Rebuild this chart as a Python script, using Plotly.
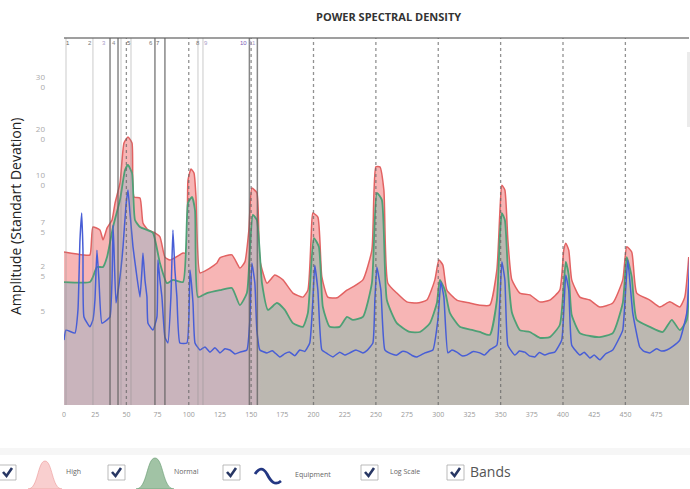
import plotly.graph_objects as go

# ---------------- data ----------------
high_freq = [0, 15.2, 20.8, 23.2, 28.8, 31.3, 34.5, 38.5, 40.9, 44.9, 48.1, 51.3, 54.5, 56.1, 60.9, 63.3,
             67.3, 72.9, 76.9, 80.9, 84.9, 95.4, 97.8, 99.4, 101.8, 104.2, 105.8, 109, 114.6, 122.6, 125, 134.6,
             141, 145, 148.2, 150.6, 154.6, 157, 162.7, 169, 175.5, 183.5, 191.5, 195.5, 198, 199.5, 203.5,
             206.7, 211.5, 218.8, 226.8, 231.6, 239.6, 246.8, 250, 253.2, 256.4, 259.6, 266.8, 274.8, 282.9,
             290.9, 297.3, 300.5, 303.7, 306.9, 314.9, 325.3, 333.3, 341.3, 347, 349.4, 351, 353.4, 355.8, 359,
             365.4, 373.4, 381.4, 389.4, 397.4, 400.6, 402.2, 404.6, 407, 413.5, 421.5, 429.5, 439.9, 447.9,
             451.1, 455.1, 459.1, 469.6, 477.6, 485.6, 493.6, 497.6, 500.8]
high_amp = [41.7, 40.9, 40.9, 48.5, 47.7, 45.0, 48.2, 50.4, 55.0, 60.5, 71.4, 73.0, 71.4, 56.7, 56.4, 49.6,
            47.7, 46.9, 45.8, 40.3, 39.5, 41.4, 41.4, 61.3, 64.3, 63.2, 56.7, 36.0, 36.8, 38.7, 40.1, 40.9,
            37.3, 39.0, 47.7, 59.1, 57.8, 39.5, 33.2, 35.4, 34.1, 30.5, 29.4, 31.3, 45.0, 52.3, 51.2,
            34.9, 29.4, 29.2, 31.3, 32.2, 34.1, 42.2, 64.9, 64.9, 58.6, 33.2, 30.5, 28.1, 27.8,
            28.6, 34.1, 39.5, 38.1, 31.3, 28.6, 27.8, 27.2, 27.2, 36.8, 52.6, 59.9, 58.6, 45.0, 34.1,
            30.5, 30.0, 28.1, 28.6, 31.3, 42.2, 44.1, 42.2, 34.1, 29.4, 28.6, 26.7, 27.8, 34.1,
            43.1, 41.7, 30.5, 28.6, 26.7, 28.1, 26.7, 29.4, 40.3]

normal_freq = [0, 20.8, 23.2, 26.4, 31.3, 34.5, 39.3, 44.9, 48.9, 51.3, 54.5, 56.9, 60.9, 66.5, 71.3, 76.9,
               82.5, 87.3, 95.4, 99.4, 102.6, 105, 107.4, 114.6, 125, 134.6, 141, 146.6, 149, 151.4, 154.6,
               158.7, 163.5, 170.7, 177, 183.5, 191.5, 195.5, 200.3, 204.3, 207.5, 213, 221, 226.8, 231.6,
               239.6, 246.8, 250.8, 254.8, 258.8, 266.8, 277.2, 285.3, 293.3, 298.9, 301.3, 305.3, 309.3,
               317.3, 327.7, 333.3, 341.3, 347, 349.4, 351, 353.4, 355.8, 359, 365.4, 373.4, 381.4, 389.4,
               397.4, 400.6, 402.2, 404.6, 407, 413.5, 421.5, 429.5, 439.9, 447.9, 451.1, 455.1, 459.1,
               469.6, 480, 487.2, 493.6, 499.2, 501]
normal_amp = [33.5, 33.5, 34.9, 37.6, 37.6, 40.3, 48.5, 55.9, 64.0, 65.4, 63.2, 50.4, 48.5, 47.7, 46.9, 38.7,
              33.2, 34.1, 33.5, 55.0, 56.7, 53.1, 29.4, 30.5, 31.3, 31.9, 27.2, 30.5, 42.2, 51.8, 50.4,
              33.2, 25.9, 27.8, 25.9, 22.3, 21.3, 25.1, 45.5, 43.1, 26.7, 21.3, 21.3, 24.0, 23.2,
              24.0, 33.2, 57.8, 55.9, 28.6, 22.3, 19.9, 19.9, 22.3, 27.8, 34.1, 31.3, 25.1,
              21.3, 20.4, 19.9, 19.1, 28.6, 46.3, 52.3, 50.4, 36.8, 25.3, 20.4, 19.9, 18.3, 18.5,
              21.8, 32.7, 39.0, 35.4, 24.5, 19.6, 18.8, 18.5, 19.6, 27.8, 40.3, 34.9, 23.2,
              21.3, 19.9, 23.2, 20.4, 23.2, 34.1]

equip_freq = [0, 1.6, 8.8, 11.2, 12.8, 14.2, 15.2, 16, 20.8, 23.2, 24.8, 26.4, 28, 30.4, 34.5, 36.9, 38.5,
              39.3, 40.1, 41.7, 44.9, 47.3, 49.7, 51.3, 52.9, 55.3, 57.7, 60.9, 62.5, 63.3, 64.9, 66.5,
              67.3, 71.3, 74.5, 75.3, 76.9, 78.5, 80.9, 83.3, 85.7, 87.3, 88.9, 90.5, 92.9, 98.6, 101,
              103.4, 105, 109, 113, 117, 121, 125, 129, 133, 137, 141, 146.6, 149, 150.6, 153, 154.6, 157,
              162.7, 167, 173, 177, 181, 185, 189, 193, 197, 199.5, 201, 203.5, 206.7, 211, 215.5, 221,
              225, 229, 234, 239.6, 243, 247.6, 249.2, 250.8, 254, 257.2, 262, 266.8, 271, 274.8, 279,
              282.9, 289.3, 295.7, 299.7, 302.1, 304.5, 307.7, 311, 314.9, 319, 322.9, 328, 333.3, 337,
              341.3, 347, 349.4, 351, 353.4, 355.8, 361.4, 365, 369.4, 373, 377.4, 381, 385.4, 389,
              393.4, 399, 402.2, 404.6, 407, 413.5, 417, 421.5, 425, 429.5, 434, 439.9, 444, 447.9, 451.9,
              455.9, 461.5, 465, 469.6, 475, 479, 483.2, 488, 493.6, 499.2, 501.6]
equip_amp = [17.7, 20.4, 19.6, 25.9, 45.0, 52.3, 42.2, 24.0, 21.3, 23.2, 28.6, 42.2, 34.1, 22.3, 23.2, 24.0, 34.1,
             49.0, 42.2, 27.8, 34.9, 43.1, 54.5, 58.6, 52.3, 43.1, 36.8, 29.4, 36.8, 41.4, 34.1, 29.4,
             22.3, 20.4, 24.0, 39.5, 34.1, 29.4, 18.5, 16.9, 29.4, 47.7, 36.8, 29.4, 16.9, 16.9, 36.8,
             27.8, 16.9, 15.0, 15.8, 14.4, 15.6, 14.2, 15.3, 15.0, 13.9, 14.4, 15.0, 23.2, 38.7, 33.2, 20.4, 15.0,
             14.2, 14.8, 13.1, 14.0, 14.4, 13.4, 15.0, 14.6, 16.9, 28.6, 38.1, 31.3, 15.0, 14.0, 13.1, 14.4,
             13.6, 14.2, 15.0, 14.2, 14.9, 16.9, 28.6, 37.6, 31.3, 15.0, 14.0, 13.6, 14.6, 14.4, 13.5,
             13.1, 14.2, 15.0, 23.2, 33.5, 29.4, 14.2, 15.0, 14.4, 13.4, 13.6, 14.6, 14.2, 13.6,
             15.0, 16.3, 28.6, 39.0, 34.1, 16.3, 13.6, 14.7, 14.4, 13.4, 13.1, 14.3, 13.6, 14.1,
             14.4, 17.7, 35.4, 31.3, 16.3, 13.6, 14.4, 12.8, 13.6, 12.3, 13.9, 15.0, 17.5, 20.4, 39.5,
             25.1, 15.8, 14.6, 14.2, 15.3, 14.7, 15.0, 16.0, 17.7, 25.1, 40.3]

x_tick_vals = list(range(0, 501, 25))
y_tick_vals = [25.6, 36.5, 48.5, 61.3, 73.8, 88.0]
y_tick_text = ["5", "2<br>5", "7<br>5", "10<br>0", "20<br>0", "30<br>0"]

harmonic_freq = [50, 100, 150, 200, 250, 300, 350, 400, 450]
band_dark_freq = [36.9, 43.3, 72.9, 80.9, 148.6, 155.0]
band_light_freq = [1.6, 23.2, 45.7, 53.7, 107.4, 111.4]
band_label_text = ["1", "2", "3", "4", "5", "6", "7", "8", "9", "10", "11"]
band_label_freq = [3.2, 20.8, 32.0, 40.0, 52.0, 69.7, 75.3, 107.4, 113.8, 144.2, 151.4]
band_label_color = ["#666", "#777", "#a89cc8", "#888", "#666", "#777", "#666", "#777", "#a89cc8", "#7a5cb8", "#a89cc8"]

legend_labels = ["High", "Normal", "Equipment", "Log Scale", "Bands"]

# ---------------- layout helpers ----------------
W, H = 690, 489
ML, MR, MT, MB = 64, 1, 38, 84
PW, PH = W - ML - MR, H - MT - MB


def px(x):
    return (x - ML) / PW


def py(y):
    return (H - MB - y) / PH


fig = go.Figure()

fig.add_trace(go.Scatter(
    x=high_freq, y=high_amp, mode="lines", name="High",
    line=dict(color="rgb(226,98,98)", width=1.5, shape="spline", smoothing=0.5),
    fill="tozeroy", fillcolor="rgba(240,120,120,0.55)"))

fig.add_trace(go.Scatter(
    x=normal_freq, y=normal_amp, mode="lines", name="Normal",
    line=dict(color="rgb(78,160,118)", width=1.8, shape="spline", smoothing=0.5),
    fill="tozeroy",
    fillgradient=dict(type="horizontal", start=0, stop=501,
                      colorscale=[[0, "rgb(201,180,188)"], [0.305, "rgb(201,180,188)"],
                                  [0.315, "rgb(188,184,177)"], [1, "rgb(188,184,177)"]])))

fig.add_trace(go.Scatter(
    x=equip_freq, y=equip_amp, mode="lines", name="Equipment",
    line=dict(color="rgb(72,94,214)", width=1.5, shape="spline", smoothing=0.4)))

shapes = []
for f in band_light_freq:
    shapes.append(dict(type="line", xref="x", yref="paper", x0=f, x1=f, y0=0, y1=1,
                       line=dict(color="rgba(140,140,140,0.45)", width=1), layer="above"))
for f in band_dark_freq:
    shapes.append(dict(type="line", xref="x", yref="paper", x0=f, x1=f, y0=0, y1=1,
                       line=dict(color="rgba(95,95,95,0.75)", width=1.5), layer="above"))
for f in harmonic_freq:
    shapes.append(dict(type="line", xref="x", yref="paper", x0=f, x1=f, y0=0, y1=1,
                       line=dict(color="rgba(100,100,100,0.7)", width=1.3, dash="dot"), layer="above"))
shapes.append(dict(type="line", xref="paper", yref="paper", x0=0, x1=1, y0=1, y1=1,
                   line=dict(color="rgba(95,95,95,0.8)", width=1.5), layer="above"))
shapes.append(dict(type="rect", xref="paper", yref="paper", x0=px(0), x1=px(690), y0=py(455), y1=py(448),
                   fillcolor="rgba(0,0,0,0.035)", line=dict(width=0), layer="above"))
shapes.append(dict(type="rect", xref="paper", yref="paper", x0=px(687), x1=px(690), y0=py(127), y1=py(52),
                   fillcolor="rgba(0,0,0,0.08)", line=dict(width=0), layer="above"))


def path(points, close=False):
    s = "M " + " L ".join(f"{px(a):.5f},{py(b):.5f}" for a, b in points)
    return s + (" Z" if close else "")


def bell(x0, x1, ytop, ybot=489):
    xm = (x0 + x1) / 2
    w = (x1 - x0)
    return (f"M {px(x0):.5f},{py(ybot):.5f} C {px(x0 + w*0.3):.5f},{py(ybot):.5f} "
            f"{px(xm - w*0.22):.5f},{py(ytop):.5f} {px(xm):.5f},{py(ytop):.5f} "
            f"C {px(xm + w*0.22):.5f},{py(ytop):.5f} {px(x1 - w*0.3):.5f},{py(ybot):.5f} "
            f"{px(x1):.5f},{py(ybot):.5f} Z")


for bx in [-1, 108, 223, 361, 447]:
    shapes.append(dict(type="rect", xref="paper", yref="paper", x0=px(bx), x1=px(bx + 17),
                       y0=py(480), y1=py(465), line=dict(color="rgba(170,170,170,0.8)", width=1),
                       fillcolor="white", layer="above"))
    shapes.append(dict(type="path", xref="paper", yref="paper",
                       path=path([(bx + 4, 472), (bx + 7.5, 476), (bx + 13, 468)]),
                       line=dict(color="rgb(40,55,100)", width=2.6), layer="above"))

shapes.append(dict(type="path", xref="paper", yref="paper", path=bell(28, 62, 461),
                   fillcolor="rgba(245,175,175,0.6)", line=dict(color="rgba(235,150,150,0.6)", width=1),
                   layer="above"))
shapes.append(dict(type="path", xref="paper", yref="paper", path=bell(136, 174, 458),
                   fillcolor="rgba(130,175,135,0.75)", line=dict(color="rgba(110,160,120,0.7)", width=1),
                   layer="above"))
sine = (f"M {px(255):.5f},{py(474):.5f} C {px(259):.5f},{py(468):.5f} {px(263):.5f},{py(467):.5f} "
        f"{px(267):.5f},{py(474):.5f} C {px(271):.5f},{py(482):.5f} {px(275):.5f},{py(486):.5f} "
        f"{px(281):.5f},{py(481):.5f}")
shapes.append(dict(type="path", xref="paper", yref="paper", path=sine,
                   line=dict(color="rgb(35,55,130)", width=2.8), layer="above"))

annotations = []
for t, f, c in zip(band_label_text, band_label_freq, band_label_color):
    annotations.append(dict(text=t, x=f, xref="x", y=py(43), yref="paper", showarrow=False,
                            xanchor="center", yanchor="middle",
                            font=dict(size=6, color=c, family="Liberation Sans")))

annotations.append(dict(text="<b>POWER SPECTRAL DENSITY</b>", x=px(388), y=py(16), xref="paper", yref="paper",
                        showarrow=False, xanchor="center", yanchor="middle",
                        font=dict(size=11, color="#333", family="Open Sans")))
annotations.append(dict(text="Amplitude (Standart Devation)", x=px(15), y=py(217), xref="paper", yref="paper",
                        showarrow=False, textangle=-90, xanchor="center", yanchor="middle",
                        font=dict(size=14, color="#222", family="Open Sans")))

legend_pos = [(73, 472, 7, "#666"), (186, 472, 7, "#666"), (313, 474, 7, "#666"), (405, 472, 7, "#666"),
              (490, 472, 14, "#555")]
for lab, (lx, ly, fs, col) in zip(legend_labels, legend_pos):
    annotations.append(dict(text=lab, x=px(lx), y=py(ly), xref="paper", yref="paper", showarrow=False,
                            xanchor="center", yanchor="middle",
                            font=dict(size=fs, color=col, family="Open Sans")))

fig.update_layout(
    width=W, height=H,
    margin=dict(l=ML, r=MR, t=MT, b=MB, pad=0),
    paper_bgcolor="white", plot_bgcolor="white",
    showlegend=False,
    shapes=shapes,
    annotations=annotations,
    xaxis=dict(range=[0, 501], tickvals=x_tick_vals, ticktext=[str(v) for v in x_tick_vals],
               showgrid=False, zeroline=False, showline=False, ticks="", ticklabelstandoff=4,
               tickfont=dict(size=7, color="#999", family="Open Sans")),
    yaxis=dict(range=[0, 100], tickvals=y_tick_vals, ticktext=y_tick_text,
               showgrid=False, zeroline=False, showline=False, ticks="", ticklabelstandoff=18,
               tickfont=dict(size=8, color="#aaa", family="Open Sans")),
)

fig.write_html("out.html", config={"displayModeBar": False},
               post_script="document.body.style.margin='0';")
